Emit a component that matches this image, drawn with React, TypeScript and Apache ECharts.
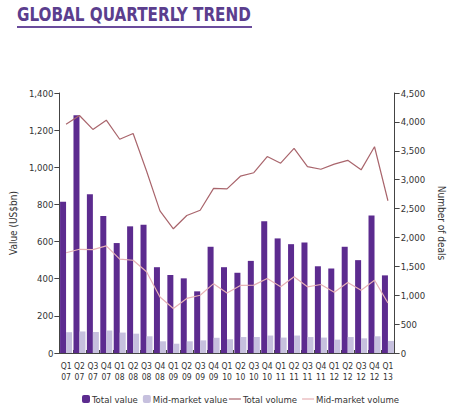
import React, { useEffect, useRef } from "react";
import * as echarts from "echarts";

const quarters = ["Q1","Q2","Q3","Q4","Q1","Q2","Q3","Q4","Q1","Q2","Q3","Q4","Q1","Q2","Q3","Q4","Q1","Q2","Q3","Q4","Q1","Q2","Q3","Q4","Q1"];
const years = ["07","07","07","07","08","08","08","08","09","09","09","09","10","10","10","10","11","11","11","11","12","12","12","12","13"];
const categories = quarters.map((q, i) => q + "\n" + years[i]);

const totalValue = [815, 1280, 855, 738, 592, 682, 690, 462, 420, 402, 332, 572, 462, 432, 496, 710, 617, 586, 595, 467, 455, 572, 500, 740, 418];
const midValue = [112, 116, 113, 121, 110, 104, 90, 63, 50, 63, 68, 82, 74, 86, 86, 94, 83, 94, 86, 83, 72, 86, 79, 90, 65];
const totalVolume = [3960, 4110, 3870, 4030, 3700, 3800, 3150, 2460, 2150, 2380, 2470, 2850, 2840, 3060, 3120, 3400, 3285, 3540, 3225, 3180, 3270, 3335, 3170, 3570, 2635];
const midVolume = [1735, 1795, 1790, 1855, 1625, 1605, 1405, 970, 770, 945, 1000, 1200, 1040, 1170, 1175, 1290, 1145, 1320, 1145, 1185, 1050, 1220, 1085, 1260, 865];

const leftTicks = [0, 200, 400, 600, 800, 1000, 1200, 1400];
const rightTicks = [0, 500, 1000, 1500, 2000, 2500, 3000, 3500, 4000, 4500];

const FONT = "'DejaVu Sans Condensed', 'DejaVu Sans', sans-serif";
const TXT = "#333";
const AXIS = "#444";
const DARK = "#5c2b8f";
const LIGHT = "#c6c0de";
const VOL = "#a9656c";
const MIDVOL = "#e6b1b5";

const fmt = (v: number) => v.toLocaleString("en-US");

export default function App() {
  const ref = useRef<HTMLDivElement>(null);
  useEffect(() => {
    if (!ref.current) return;
    const chart = echarts.init(ref.current, null, { renderer: "svg" });
    const legendText = { fontFamily: FONT, fontSize: 9.5, color: TXT, padding: [0, 0, 0, -3] };
    chart.setOption({
      animation: false,
      textStyle: { fontFamily: FONT },
      graphic: [
        {
          type: "text",
          x: 17,
          y: 5,
          scaleX: 0.89,
          style: {
            text: "GLOBAL QUARTERLY TREND",
            font: "bold 19px 'DejaVu Sans Condensed', 'DejaVu Sans', sans-serif",
            fill: "#5b3e8e",
          },
        },
        {
          type: "rect",
          shape: { x: 17, y: 26, width: 235, height: 2 },
          style: { fill: "#6a4c9c" },
        },
      ],
      legend: [
        {
          data: ["Total value", "Mid-market value"],
          left: 82,
          top: 394,
          padding: 0,
          itemWidth: 8,
          itemHeight: 8,
          itemGap: 5,
          textStyle: legendText,
        },
        {
          data: [
            { name: "Total volume", icon: "rect" },
            { name: "Mid-market volume", icon: "rect" },
          ],
          right: 55,
          top: 394,
          padding: 0,
          itemWidth: 12,
          itemHeight: 1.2,
          itemGap: 5,
          textStyle: legendText,
        },
      ],
      grid: { left: 58, right: 59, top: 93, bottom: 60 },
      xAxis: {
        type: "category",
        data: categories,
        axisLine: { lineStyle: { color: AXIS, width: 1 } },
        axisTick: { show: true, inside: true, length: 3, lineStyle: { color: AXIS } },
        axisLabel: {
          interval: 0,
          fontFamily: FONT,
          fontSize: 8.5,
          color: TXT,
          lineHeight: 11,
          margin: 7,
        },
      },
      yAxis: [
        {
          type: "value",
          min: 0,
          max: 1400,
          interval: 200,
          name: "Value (US$bn)",
          nameLocation: "middle",
          nameGap: 30,
          nameTextStyle: { fontFamily: FONT, fontSize: 10, color: TXT },
          axisLine: { show: true, lineStyle: { color: AXIS } },
          axisTick: { show: true, length: 5, lineStyle: { color: AXIS } },
          splitLine: { show: false },
          axisLabel: {
            fontFamily: FONT,
            fontSize: 9.5,
            color: TXT,
            margin: 6,
            formatter: (v: number) => (leftTicks.includes(v) ? fmt(v) : ""),
          },
        },
        {
          type: "value",
          min: 0,
          max: 4500,
          interval: 500,
          name: "Number of deals",
          nameLocation: "middle",
          nameGap: 33,
          nameRotate: -90,
          nameTextStyle: { fontFamily: FONT, fontSize: 10, color: TXT },
          axisLine: { show: true, lineStyle: { color: AXIS } },
          axisTick: { show: true, length: 5, lineStyle: { color: AXIS } },
          splitLine: { show: false },
          axisLabel: {
            fontFamily: FONT,
            fontSize: 9.5,
            color: TXT,
            margin: 6,
            formatter: (v: number) => (rightTicks.includes(v) ? fmt(v) : ""),
          },
        },
      ],
      series: [
        {
          name: "Total value",
          type: "bar",
          data: totalValue,
          barWidth: 6,
          barGap: "0%",
          itemStyle: { color: DARK },
        },
        {
          name: "Mid-market value",
          type: "bar",
          data: midValue,
          barWidth: 6,
          barGap: "0%",
          itemStyle: { color: LIGHT },
        },
        {
          name: "Total volume",
          type: "line",
          yAxisIndex: 1,
          data: totalVolume,
          symbol: "none",
          lineStyle: { color: VOL, width: 1.2 },
          itemStyle: { color: VOL },
        },
        {
          name: "Mid-market volume",
          type: "line",
          yAxisIndex: 1,
          data: midVolume,
          symbol: "none",
          lineStyle: { color: MIDVOL, width: 1.2 },
          itemStyle: { color: MIDVOL },
        },
      ],
    });
    return () => chart.dispose();
  }, []);
  return <div ref={ref} style={{ width: 454, height: 413, position: "absolute", left: 0, top: 0 }} />;
}
